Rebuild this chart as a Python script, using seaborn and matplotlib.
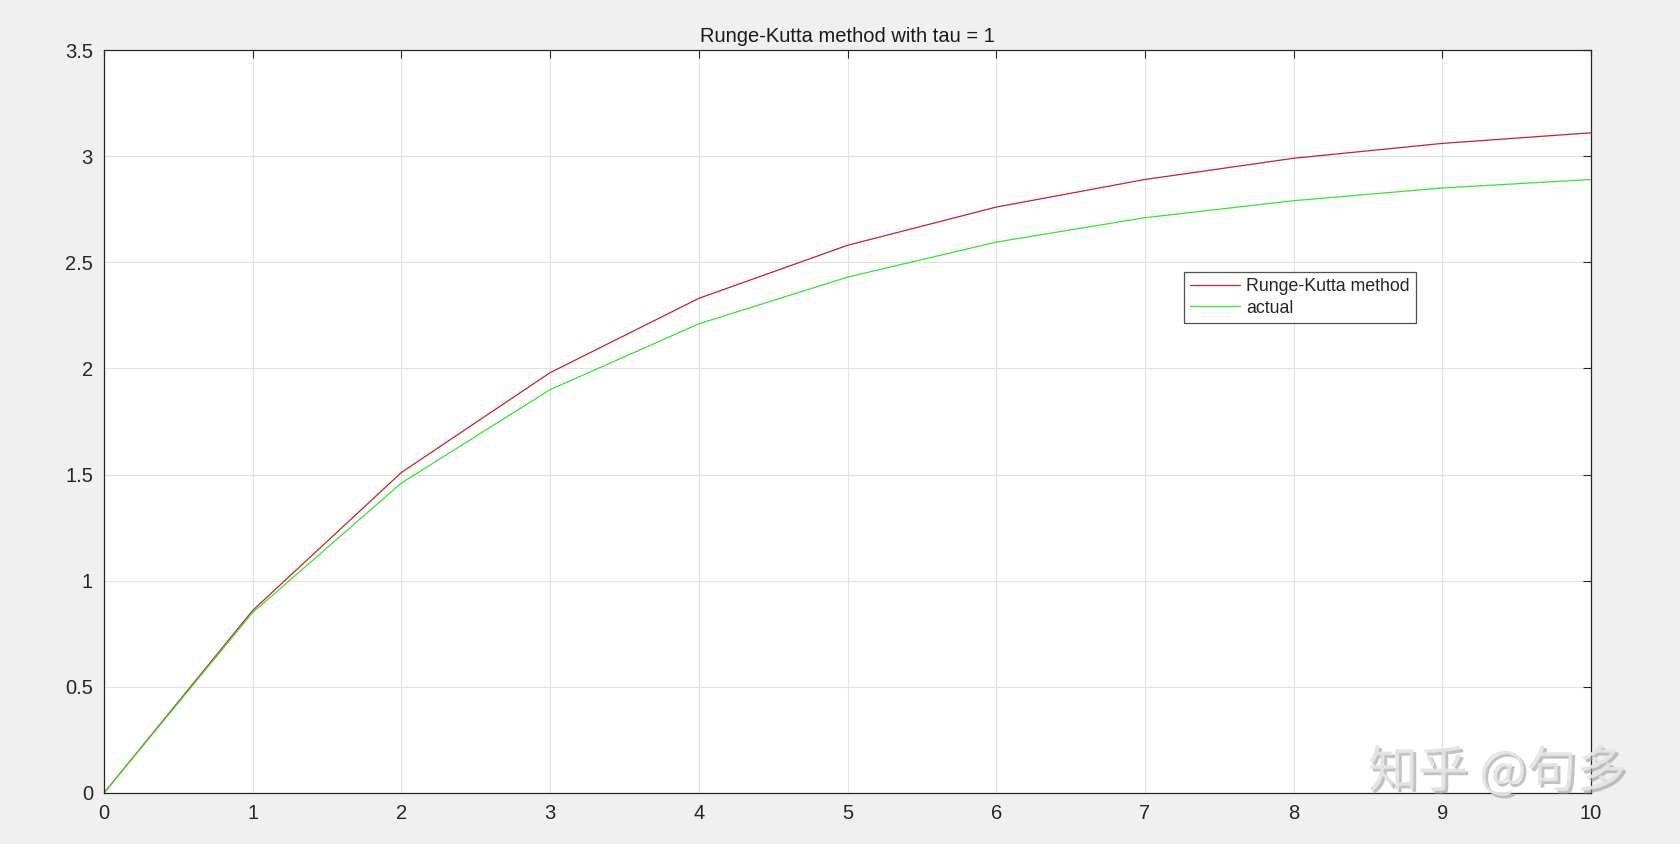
import numpy as np
import pandas as pd
import seaborn as sns
import matplotlib
matplotlib.use("Agg")
from matplotlib import pyplot as plt
import matplotlib.patheffects as pe

t = [0, 1, 2, 3, 4, 5, 6, 7, 8, 9, 10]
rk = [0, 0.86, 1.51, 1.98, 2.33, 2.58, 2.76, 2.89, 2.99, 3.06, 3.11]
actual = [0, 0.85, 1.46, 1.90, 2.21, 2.43, 2.595, 2.71, 2.79, 2.85, 2.89]
labels = ['Runge-Kutta method', 'actual']
x_ticks = [0, 1, 2, 3, 4, 5, 6, 7, 8, 9, 10]
y_ticks = [0, 0.5, 1, 1.5, 2, 2.5, 3, 3.5]
y_tick_labels = ['0', '0.5', '1', '1.5', '2', '2.5', '3', '3.5']

df = pd.DataFrame({
    't': t + t,
    'y': rk + actual,
    'series': [labels[0]] * len(t) + [labels[1]] * len(t),
})

sns.set_style('white')
plt.rcParams['font.family'] = ['Liberation Sans', 'DejaVu Sans']

fig = plt.figure(figsize=(16.81, 8.44), dpi=100, facecolor='#f0f0f0')
ax = fig.add_axes([104 / 1681, 1 - 793 / 844, (1591 - 104) / 1681, (793 - 50) / 844])
ax.set_facecolor('white')

sns.lineplot(data=df, x='t', y='y', hue='series', palette=['#c8202a', '#2ee82e'],
             linewidth=0.9, ax=ax)

ax.set_xlim(0, 10)
ax.set_ylim(0, 3.5)
ax.set_xticks(x_ticks)
ax.set_yticks(y_ticks)
ax.set_yticklabels(y_tick_labels)
ax.set_xlabel('')
ax.set_ylabel('')
ax.grid(True, color='#e2e2e2', linewidth=0.8)
ax.set_axisbelow(True)
ax.tick_params(direction='in', length=6, width=0.8, colors='#262626', labelsize=14.5,
               top=True, right=True, pad=8)
for s in ax.spines.values():
    s.set_color('#262626')
    s.set_linewidth(0.9)
ax.set_title('Runge-Kutta method with tau = 1', fontsize=14.5, color='#1a1a1a', pad=6)

leg = ax.legend(loc='upper left', bbox_to_anchor=((1184 - 104) / 1487, 1 - (272 - 50) / 743),
                fontsize=12.8, frameon=True, fancybox=False, handlelength=2.8,
                borderpad=0.35, labelspacing=0.25, handletextpad=0.35, borderaxespad=0)
leg.get_frame().set_edgecolor('#262626')
leg.get_frame().set_linewidth(0.9)
for line in leg.get_lines():
    line.set_linewidth(0.9)

fig.text(1368 / 1681, 1 - 787 / 844, '知乎 @句多', fontsize=36, color='#e4e4e4',
         family=['Noto Sans CJK SC', 'DejaVu Sans'], va='baseline', alpha=0.95,
         path_effects=[pe.withSimplePatchShadow(offset=(2, -2), shadow_rgbFace='#9a9a9a', alpha=0.6)])

fig.savefig('out.png', dpi=100, facecolor=fig.get_facecolor())
